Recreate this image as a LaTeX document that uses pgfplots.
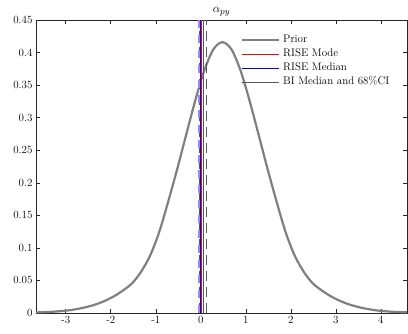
\documentclass[border=0pt]{standalone}
\usepackage{pgfplots}
\pgfplotsset{compat=1.18}

% Prior density of alpha_py
\pgfplotstableread{
x      y
-3.72  0.0008
-3.52  0.0012
-3.32  0.0018
-3.12  0.0028
-2.92  0.0042
-2.72  0.0065
-2.52  0.0095
-2.32  0.0135
-2.12  0.019
-1.92  0.026
-1.72  0.035
-1.52  0.046
-1.32  0.064
-1.12  0.089
-0.92  0.125
-0.72  0.172
-0.52  0.222
-0.32  0.275
-0.12  0.327
 0.08  0.373
 0.28  0.405
 0.48  0.416
 0.68  0.405
 0.88  0.373
 1.08  0.327
 1.28  0.275
 1.48  0.222
 1.68  0.172
 1.88  0.125
 2.08  0.089
 2.28  0.064
 2.48  0.046
 2.68  0.035
 2.88  0.026
 3.08  0.019
 3.28  0.0135
 3.48  0.0095
 3.68  0.0065
 3.88  0.0042
 4.08  0.0028
 4.28  0.0018
 4.48  0.0012
 4.68  0.0008
}\prior

\definecolor{riseband}{rgb}{0.55,0.55,1}

\begin{document}
\begin{tikzpicture}
\begin{axis}[
  scale only axis, width=371pt, height=293pt,
  at={(36pt,20pt)}, anchor=south west,
  xmin=-3.66, xmax=4.58, ymin=0, ymax=0.45,
  xtick={-3,-2,-1,0,1,2,3,4},
  xticklabels={-3,-2,-1,0,1,2,3,4},
  ytick={0,0.05,0.1,0.15,0.2,0.25,0.3,0.35,0.4,0.45},
  yticklabels={0,0.05,0.1,0.15,0.2,0.25,0.3,0.35,0.4,0.45},
  tick align=inside, major tick length=4pt,
  axis line style={draw=black!85, line width=0.6pt},
  tick style={draw=black!85, line width=0.5pt},
  ticklabel style={font=\fontsize{11}{13}\selectfont},
  title={$\alpha_{py}$},
  title style={at={(0.5,1)}, anchor=base, yshift=1.5pt, font=\fontsize{12.5}{14}\selectfont},
  clip=true,
  legend style={draw=none, fill=none, at={(0.5526,0.9505)}, anchor=north west,
    inner sep=0pt, outer sep=0pt, font=\fontsize{11}{13}\selectfont,
    row sep=3pt, column sep=2pt,
    nodes={inner sep=1pt, text height=7pt, text depth=2pt}},
  legend image code/.code={\draw[#1] (0pt,0pt) -- (37pt,0pt);},
  legend cell align=left,
]
\addplot[color=black!50, line width=2.2pt, smooth] table[x=x, y=y] {\prior};
\addlegendentry{Prior}

% BI 68% interval bounds
\addplot[forget plot, color=black!65, line width=0.8pt, dash pattern=on 10pt off 6pt]
  coordinates {(-0.02,0) (-0.02,0.45)};
\addplot[forget plot, color=black!65, line width=0.8pt, dash pattern=on 10pt off 6pt]
  coordinates {(0.12,0) (0.12,0.45)};
% RISE interval
\addplot[forget plot, color=riseband, line width=4pt, dash pattern=on 8pt off 7pt]
  coordinates {(-0.025,0) (-0.025,0.45)};

\addplot[color=red, line width=0.8pt] coordinates {(0.013,0) (0.013,0.45)};
\addlegendentry{RISE Mode}
\addplot[color=blue, line width=0.7pt] coordinates {(-0.01,0) (-0.01,0.45)};
\addlegendentry{RISE Median}
\addplot[color=black!65, line width=0.8pt] coordinates {(0.05,0) (0.05,0.45)};
\addlegendentry{BI Median and 68\%CI}
\end{axis}
\pgfresetboundingbox
\path[use as bounding box] (0,0) rectangle (408pt,333pt);
\end{tikzpicture}
\end{document}
